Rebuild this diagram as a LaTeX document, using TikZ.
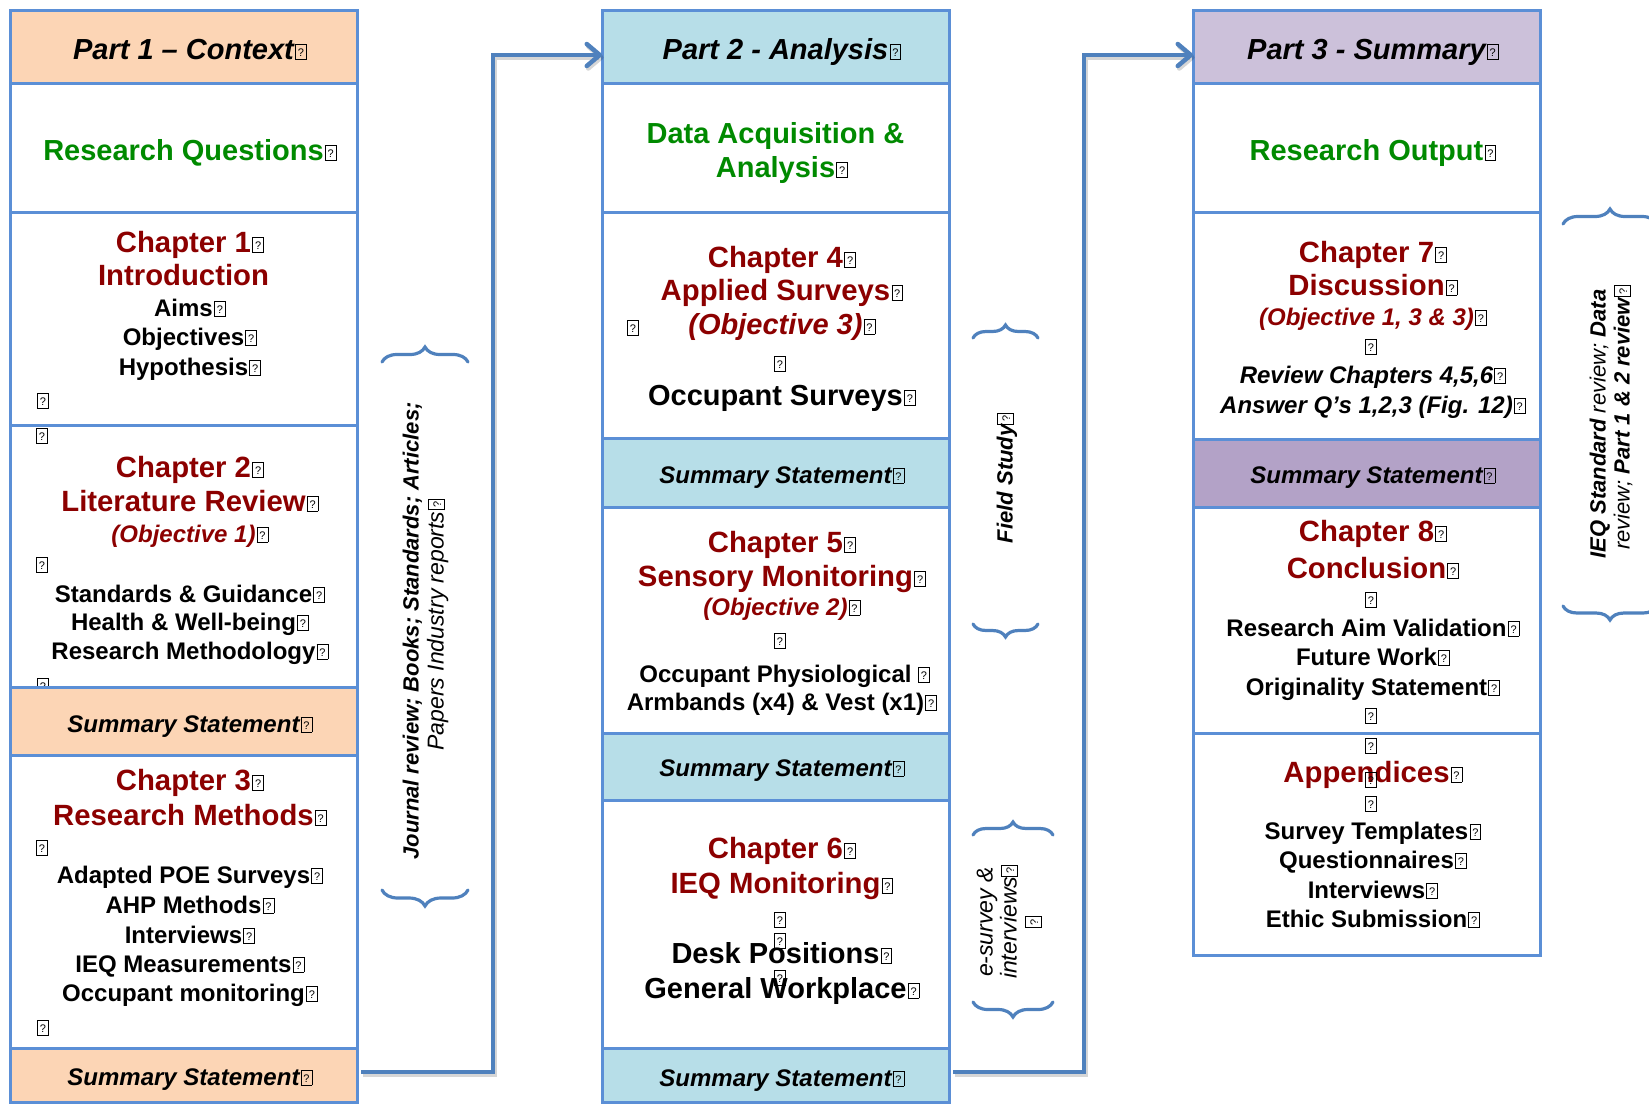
\documentclass[tikz,border=0pt]{standalone}
\usepackage{fontspec}
\setmainfont{Liberation Sans}
\usetikzlibrary{arrows.meta,decorations.pathreplacing}

\definecolor{bbl}{HTML}{5B8FD6}
\definecolor{cbl}{HTML}{4F81BD}
\definecolor{peach}{HTML}{FCD5B5}
\definecolor{lblue}{HTML}{B7DEE8}
\definecolor{lav}{HTML}{CCC1DA}
\definecolor{lavd}{HTML}{B3A2C7}
\definecolor{tgreen}{HTML}{008A00}
\definecolor{tred}{HTML}{8C0000}

\newcommand\fsz[1]{\fontsize{#1}{#1}\selectfont}
\newcommand\fszb[2]{\fontsize{#1}{#2}\selectfont}
% small framed "?" placeholder glyph
\newcommand\qb{{\normalfont\color{black}\fontsize{11}{11}\selectfont\setlength\fboxsep{0pt}\setlength\fboxrule{0.8pt}\fbox{\makebox[10pt]{\rule{0pt}{14.5pt}\raisebox{2.5pt}{?}}}}}
\newcommand\eq{\rlap{\hspace{1.2pt}\qb}}

\begin{document}
\begin{tikzpicture}[x=1pt,y=-1pt,
  box/.style={draw=bbl,fill=white,line width=3pt,inner sep=0pt,outer sep=0pt,minimum width=347pt},
  txt/.style={inner sep=0pt,anchor=base},
  hd/.style={txt,font=\fsz{29}\bfseries\itshape},
  grn/.style={txt,text=tgreen,font=\fsz{29}\bfseries},
  chp/.style={txt,text=tred,font=\fsz{29.3}\bfseries},
  obj/.style={txt,text=tred,font=\fsz{24}\bfseries\itshape},
  itm/.style={txt,font=\fsz{24}\bfseries},
  big/.style={txt,font=\fsz{29}\bfseries},
  sst/.style={txt,font=\fsz{24}\bfseries\itshape},
  lone/.style={inner sep=0pt,anchor=base west},
  conn/.style={draw=cbl,line width=4.5pt,-{Straight Barb[length=13pt,width=22pt,round]}},
  connshade/.style={conn,draw=black,opacity=0.16,transform canvas={shift={(1.5pt,-2.5pt)}}},
  brc/.style={draw=cbl,line width=3.2pt,line cap=round,decorate,decoration={brace,amplitude=#1}},
  side/.style={inner sep=0pt,rotate=90,align=center}]

\useasboundingbox (0,0) rectangle (1649,1104);
\clip (0,0) rectangle (1649,1104);

% ---------------- Part 1 ----------------
\node[box,fill=peach,minimum height=73pt] (p1h) at (183.5,46.5) {};
\node[hd] (p1t) at (183.5,59) {Part 1 – Context\eq};
\node[box,minimum height=129pt] (rq) at (183.5,147.5) {};
\node[grn] (rqt) at (183.5,160) {Research Questions\eq};

\node[box,minimum height=213pt] (c1) at (183.5,318.5) {};
\node[chp] (c1a) at (183.5,252) {Chapter 1\eq};
\node[chp] (c1b) at (183.5,285) {Introduction};
\node[itm] (c1c) at (183.5,316) {Aims\eq};
\node[itm] (c1d) at (183.5,345) {Objectives\eq};
\node[itm] (c1e) at (183.5,375) {Hypothesis\eq};
\node[lone] (c1q) at (37,408) {\qb};

\node[box,minimum height=262pt] (c2) at (183.5,556) {};
\node[lone] (c2q1) at (36,443) {\qb};
\node[chp] (c2a) at (183.5,477) {Chapter 2\eq};
\node[chp] (c2b) at (183.5,511) {Literature Review\eq};
\node[obj] (c2c) at (183.5,542) {(Objective 1)\eq};
\node[lone] (c2q2) at (36,572) {\qb};
\node[itm] (c2d) at (183.5,602) {Standards \& Guidance\eq};
\node[itm] (c2e) at (183.5,630) {Health \& Well-being\eq};
\node[itm] (c2f) at (183.5,659) {Research Methodology\eq};
\node[lone] (c2q3) at (37,693) {\qb};

\node[box,fill=peach,minimum height=68pt] (s1a) at (183.5,721) {};
\node[sst] (s1at) at (183.5,732) {Summary Statement\eq};

\node[box,minimum height=293pt] (c3) at (183.5,901.5) {};
\node[chp] (c3a) at (183.5,790) {Chapter 3\eq};
\node[chp] (c3b) at (183.5,825) {Research Methods\eq};
\node[lone] (c3q1) at (36,855) {\qb};
\node[itm] (c3c) at (183.5,883) {Adapted POE Surveys\eq};
\node[itm] (c3d) at (183.5,913) {AHP Methods\eq};
\node[itm] (c3e) at (183.5,943) {Interviews\eq};
\node[itm] (c3f) at (183.5,972) {IEQ Measurements\eq};
\node[itm] (c3g) at (183.5,1001) {Occupant monitoring\eq};
\node[lone] (c3q2) at (37,1035) {\qb};

\node[box,fill=peach,minimum height=54pt] (s1b) at (183.5,1075) {};
\node[sst] (s1bt) at (183.5,1085) {Summary Statement\eq};

% ---------------- Part 2 ----------------
\node[box,fill=lblue,minimum height=73pt] (p2h) at (775.5,46.5) {};
\node[hd] (p2t) at (775.5,59) {Part 2 - Analysis\eq};
\node[box,minimum height=129pt] (da) at (775.5,147.5) {};
\node[grn] (dat1) at (775.5,143) {Data Acquisition \&};
\node[grn] (dat2) at (775.5,177) {Analysis\eq};

\node[box,minimum height=226pt] (c4) at (775.5,325) {};
\node[chp] (c4a) at (775.5,267) {Chapter 4\eq};
\node[chp] (c4b) at (775.5,300) {Applied Surveys\eq};
\node[obj,font=\fsz{29}\bfseries\itshape] (c4c) at (775.5,334) {(Objective 3)\eq};
\node[lone] (c4q1) at (627,335) {\qb};
\node[lone] (c4q2) at (774,371) {\qb};
\node[big] (c4d) at (775.5,405) {Occupant Surveys\eq};

\node[box,fill=lblue,minimum height=69pt] (s2a) at (775.5,472.5) {};
\node[sst] (s2at) at (775.5,483) {Summary Statement\eq};

\node[box,minimum height=226pt] (c5) at (775.5,620) {};
\node[chp] (c5a) at (775.5,552) {Chapter 5\eq};
\node[chp] (c5b) at (775.5,586) {Sensory Monitoring\eq};
\node[obj] (c5c) at (775.5,615) {(Objective 2)\eq};
\node[lone] (c5q) at (774,648) {\qb};
\node[itm] (c5d) at (775.5,682) {Occupant Physiological\rlap{\ \qb}};
\node[itm] (c5e) at (775.5,710) {Armbands (x4) \& Vest (x1)\eq};

\node[box,fill=lblue,minimum height=67pt] (s2b) at (775.5,766.5) {};
\node[sst] (s2bt) at (775.5,776) {Summary Statement\eq};

\node[box,minimum height=248pt] (c6) at (775.5,924) {};
\node[chp] (c6a) at (775.5,858) {Chapter 6\eq};
\node[chp] (c6b) at (775.5,893) {IEQ Monitoring\eq};
\node[lone] (c6q1) at (774,927) {\qb};
\node[big] (c6c) at (775.5,963) {Desk Positions\eq};
\node[lone] (c6q2) at (774,948) {\qb};
\node[big] (c6d) at (775.5,998) {General Workplace\eq};
\node[lone] (c6q3) at (774,985) {\qb};

\node[box,fill=lblue,minimum height=54pt] (s2c) at (775.5,1075) {};
\node[sst] (s2ct) at (775.5,1086) {Summary Statement\eq};

% ---------------- Part 3 ----------------
\node[box,fill=lav,minimum height=73pt] (p3h) at (1366.5,46.5) {};
\node[hd] (p3t) at (1366.5,59) {Part 3 - Summary\eq};
\node[box,minimum height=129pt] (ro) at (1366.5,147.5) {};
\node[grn] (rot) at (1366.5,160) {Research Output\eq};

\node[box,minimum height=227pt] (c7) at (1366.5,325.5) {};
\node[chp] (c7a) at (1366.5,262) {Chapter 7\eq};
\node[chp] (c7b) at (1366.5,295) {Discussion\eq};
\node[obj] (c7c) at (1366.5,325) {(Objective 1, 3 \& 3)\eq};
\node[lone] (c7q) at (1365,354) {\qb};
\node[sst] (c7d) at (1366.5,383) {Review Chapters 4,5,6\eq};
\node[sst] (c7e) at (1366.5,413) {Answer Q’s 1,2,3 (Fig. 12)\eq};

\node[box,fill=lavd,minimum height=68pt] (s3) at (1366.5,473) {};
\node[sst] (s3t) at (1366.5,483) {Summary Statement\eq};

\node[box,minimum height=226pt] (c8) at (1366.5,620) {};
\node[chp] (c8a) at (1366.5,541) {Chapter 8\eq};
\node[chp] (c8b) at (1366.5,578) {Conclusion\eq};
\node[lone] (c8q1) at (1365,607) {\qb};
\node[itm] (c8c) at (1366.5,636) {Research Aim Validation\eq};
\node[itm] (c8d) at (1366.5,665) {Future Work\eq};
\node[itm] (c8e) at (1366.5,695) {Originality Statement\eq};
\node[lone] (c8q2) at (1365,723) {\qb};

\node[box,minimum height=222pt] (ap) at (1366.5,844) {};
\node[lone] (apq1) at (1365,753) {\qb};
\node[chp] (apa) at (1366.5,782) {Appendices\eq};
\node[lone] (apq2) at (1365,787) {\qb};
\node[lone] (apq3) at (1365,811) {\qb};
\node[itm] (apb) at (1366.5,839) {Survey Templates\eq};
\node[itm] (apc) at (1366.5,868) {Questionnaires\eq};
\node[itm] (apd) at (1366.5,898) {Interviews\eq};
\node[itm] (ape) at (1366.5,927) {Ethic Submission\eq};

% ---------------- connectors between parts ----------------
\coordinate (j1) at (493,0);
\coordinate (j2) at (1084,0);
\coordinate (a2) at ([yshift=-8.5pt]p2h.west);
\coordinate (a3) at ([yshift=-8.5pt]p3h.west);
\coordinate (b1) at ([xshift=4pt,yshift=3pt]s1b.east);
\coordinate (b2) at ([xshift=4pt,yshift=3pt]s2c.east);

\draw[connshade] (b1) -- (b1 -| j1) -- (j1 |- a2) -- (a2);
\draw[connshade] (b2) -- (b2 -| j2) -- (j2 |- a3) -- (a3);
\draw[conn] (b1) -- (b1 -| j1) -- (j1 |- a2) -- (a2);
\draw[conn] (b2) -- (b2 -| j2) -- (j2 |- a3) -- (a3);

% ---------------- braces and side notes ----------------
\draw[brc=15pt] (382,362) -- (468,362);
\draw[brc=16pt] (468,890) -- (382,890);
\node[side,font=\fszb{22}{25}\itshape] (jr) at (425.5,631)
  {\textbf{Journal review; Books; Standards; Articles;}\\{\fontsize{23}{25}\selectfont Papers Industry reports}\eq};

\draw[brc=13pt] (973,338) -- (1038,338);
\draw[brc=13pt] (1038,624) -- (973,624);
\node[side,font=\fsz{22}\bfseries\itshape] (fs) at (1007,478) {Field Study\qb};

\draw[brc=13pt] (973,835) -- (1053,835);
\draw[brc=15pt] (1053,1002) -- (973,1002);
\node[side,font=\fszb{23}{24}\itshape] (es) at (1009,922) {e-survey \&\\interviews\qb\\\qb};

\draw[brc=15pt] (1563,224) -- (1657,224);
\draw[brc=14pt] (1657,606) -- (1563,606);
\node[side,font=\fszb{22}{24}\itshape] (iq) at (1611,424)
  {\textbf{IEQ Standard} review; \textbf{Data}\\review; \textbf{Part 1 \& 2 review}\eq};

\end{tikzpicture}
\end{document}
